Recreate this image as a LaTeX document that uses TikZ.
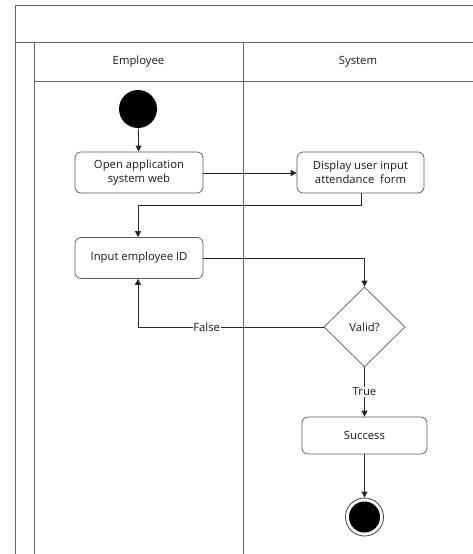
\documentclass[tikz,border=0pt]{standalone}
\usepackage{fontspec}
\setmainfont{Open Sans}
\usetikzlibrary{arrows.meta,shapes.geometric}
\begin{document}
\begin{tikzpicture}[x=1pt,y=-1pt,
  frame/.style={draw=black!60,line width=1pt},
  txt/.style={font=\fontsize{11.3}{14}\selectfont,text=black!90},
  act/.style={txt,draw=black!65,rounded corners=6pt,minimum width=128pt,minimum height=41pt,align=center,line width=0.7pt},
  flow/.style={draw=black!85,line width=0.8pt,-{Triangle[width=6pt,length=6pt]}},
  lbl/.style={txt,fill=white,inner sep=0.5pt}]
\useasboundingbox (0,0) rectangle (473,554);
\begin{scope}
\clip (0,0) rectangle (473,554);
\draw[frame] (15,560) -- (15,5) -- (480,5);
\draw[frame] (15,42) -- (480,42);
\draw[frame] (34,560) -- (34,42);
\draw[frame] (34,81) -- (480,81);
\draw[frame] (243,560) -- (243,42);
\end{scope}
\node[txt] (l1) at (138.5,61.5) {Employee};
\node[txt] (l2) at (358,61.5) {System};
\node[circle,fill=black,minimum size=38pt,inner sep=0pt] (start) at (138,109) {};
\node[act] (open) at (139,172.5) {Open application\\system web};
\node[act,minimum width=127pt] (disp) at (360.5,172.5) {Display user input\\attendance~ form};
\node[act] (inp) at (139,258) {Input employee ID};
\node[txt,diamond,draw=black!65,line width=0.7pt,minimum width=81pt,minimum height=80pt,inner sep=0pt] (valid) at (364.5,327) {Valid?};
\node[act,minimum width=125pt,minimum height=37pt] (succ) at (364.5,435.5) {Success};
\node[circle,draw=black!75,line width=0.8pt,minimum size=38pt,inner sep=0pt] (end) at (364.5,517) {};
\node[circle,fill=black,minimum size=31pt,inner sep=0pt] (endin) at (364.5,517) {};
\coordinate (c1) at (361,205);
\coordinate (c2) at (138,205);
\coordinate (c3) at (364.5,258);
\coordinate (c4) at (138,327);
\draw[flow] (start) -- (open);
\draw[flow] (open.east |- 0,173) -- (disp.west |- 0,173);
\draw[flow] (disp.south -| c1) -- (c1) -- (c2) -- (c2 |- inp.north);
\draw[flow] (inp.east) -- (c3) -- (valid.north);
\draw[flow] (valid.west) -- node[lbl,pos=0.63]{False} (c4) -- (c4 |- inp.south);
\draw[flow] (valid.south) -- node[lbl,pos=0.5]{True} (succ.north);
\draw[flow] (succ.south) -- (end.north);
\end{tikzpicture}
\end{document}
